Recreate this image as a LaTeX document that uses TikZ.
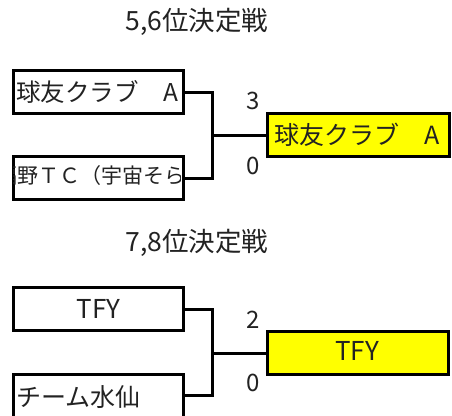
\documentclass[tikz,border=0pt]{standalone}
\usepackage{fontspec}
\setmainfont{Noto Sans CJK JP}
\definecolor{winyellow}{HTML}{FFFF00}
\definecolor{txtgray}{HTML}{222222}
\tikzset{
  box/.style={draw=black, line width=3pt, minimum width=170pt, minimum height=43pt, inner sep=0pt, anchor=north west},
  winbox/.style={box, fill=winyellow, minimum width=182pt},
  conn/.style={draw=black, line width=3pt},
  lbl/.style={font=\fontsize{24.5}{28}\selectfont, text=txtgray, inner sep=0pt},
  ttl/.style={font=\fontsize{26.5}{30}\selectfont, text=txtgray, inner sep=0pt},
  score/.style={font=\fontsize{24}{28}\selectfont, text=txtgray, inner sep=0pt}
}
\begin{document}
\begin{tikzpicture}[x=1pt,y=-1pt]
\useasboundingbox (0,0) rectangle (452,415);
% ---------- 5,6 ----------
\node[ttl] (t1) at (197,22) {5,6位決定戦};
\node[box] (b1) at (12,69) {};
\node[winbox] (b3) at (266,112) {};
\node[box] (b2) at (12,155) {};
\node[lbl, anchor=west] (b1t) at ([xshift=4pt]b1.west) {球友クラブ　A};
\node[lbl, anchor=west, font=\fontsize{25}{30}\selectfont] (b3t) at ([xshift=8pt]b3.west) {球友クラブ　A};
\begin{scope}
  \clip (13.5,156.5) rectangle (180.5,196.5);
  \node[lbl, anchor=west, font=\fontsize{21}{26}\selectfont] (b2t) at (-4,176) {福野ＴＣ（宇宙そら）};
\end{scope}
\coordinate (m1) at ([xshift=-54pt]b3.west);
\draw[conn] (b1.east) -| (m1) |- (b2.east);
\draw[conn] (m1) -- (b3.west);
\node[score] (s1) at (253,101) {3};
\node[score] (s2) at (253,166) {0};
% ---------- 7,8 ----------
\node[ttl] (t2) at (197,243) {7,8位決定戦};
\node[box] (b4) at (12,286) {};
\node[winbox, minimum width=181pt] (b6) at (266,330) {};
\node[box, minimum height=45pt] (b5) at (12,373) {};
\node[lbl, font=\fontsize{26}{30}\selectfont] (b4t) at (b4.center) {TFY};
\node[lbl, font=\fontsize{26}{30}\selectfont] (b6t) at (357,351) {TFY};
\node[lbl, anchor=west, font=\fontsize{25}{30}\selectfont] (b5t) at ([xshift=4pt]b5.west) {チーム水仙};
\coordinate (m2) at ([xshift=-54pt]b6.west);
\coordinate (e5) at (182,395);
\draw[conn] (b4.east) -| (m2);
\draw[conn] (m2) |- (e5);
\draw[conn] (m2) -- (b6.west);
\node[score] (s3) at (253,320) {2};
\node[score] (s4) at (253,383) {0};
\end{tikzpicture}
\end{document}
